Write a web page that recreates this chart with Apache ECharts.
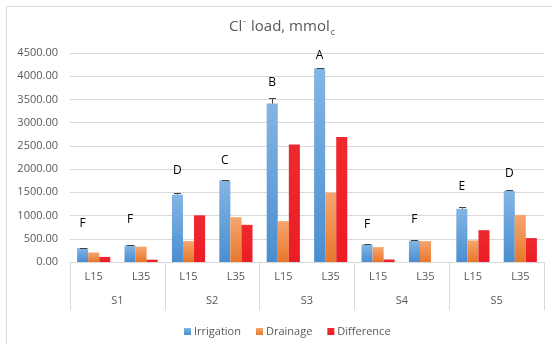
<!DOCTYPE html>
<html><head><meta charset="utf-8">
<script src="https://cdn.jsdelivr.net/npm/echarts@6/dist/echarts.min.js"></script>
<style>html,body{margin:0;padding:0;background:#fff}#c{width:552px;height:344px}</style>
</head><body><div id="c"></div>
<script>
const categories = ['L15','L35','L15','L35','L15','L35','L15','L35','L15','L35'];
const groups = ['S1','S2','S3','S4','S5'];
const irrigation = [300, 360, 1450, 1760, 3410, 4170, 380, 460, 1145, 1530];
const irrigationErr = [10, 10, 40, 10, 120, 10, 12, 10, 45, 10];
const drainage = [205, 330, 450, 965, 880, 1495, 320, 450, 465, 1015];
const difference = [110, 50, 1005, 800, 2530, 2690, 55, 0, 685, 515];
const letters = ['F','F','D','C','B','A','F','F','E','D'];
const letterY = [820, 920, 1970, 2190, 3860, 4450, 810, 910, 1625, 1900];
const yTicks = { min: 0, max: 4500, interval: 500 };

const FONT = 'Open Sans';
const GRAY = '#595959';
const LINE = '#d9d9d9';

const chart = echarts.init(document.getElementById('c'), null, {renderer: 'canvas'});

function grad(top, bottom) {
  return new echarts.graphic.LinearGradient(0, 0, 0, 1, [
    {offset: 0, color: top}, {offset: 1, color: bottom}
  ]);
}

const errData = irrigation.map((v, i) => [i, v, irrigationErr[i]]);
const letterData = letterY.map((v, i) => [i, v, letters[i]]);

function barOffset(api) {
  const catW = api.size([1, 0])[0];
  return catW * 0.7 / 3;
}

chart.setOption({
  animation: false,
  textStyle: {fontFamily: FONT},
  graphic: [
    {type: 'rect', shape: {x: 6.5, y: 6.5, width: 600, height: 400},
     style: {fill: 'none', stroke: LINE, lineWidth: 1}, silent: true, z: -1},
    {type: 'text', x: 282, y: 27,
     style: {
       text: '{a|Cl}{s|-}{a| load, mmol}{b|c}',
       align: 'center', verticalAlign: 'middle',
       rich: {
         a: {fontFamily: FONT, fontSize: 15, fill: GRAY, lineHeight: 20},
         s: {fontFamily: FONT, fontSize: 9, fill: GRAY, verticalAlign: 'top', padding: [0,1,8,1]},
         b: {fontFamily: FONT, fontSize: 9, fill: GRAY, padding: [10,0,0,1]}
       }
     }}
  ],
  grid: {left: 70, right: 8, top: 53, bottom: 82, containLabel: false},
  legend: {
    data: ['Irrigation', 'Drainage', 'Difference'],
    left: 179, top: 321,
    itemWidth: 7, itemHeight: 7, itemGap: 15,
    icon: 'rect',
    textStyle: {fontFamily: FONT, fontSize: 11, color: GRAY, padding: [0,0,0,-2]}
  },
  xAxis: [
    {type: 'category', data: categories, position: 'bottom',
     axisLine: {show: true, lineStyle: {color: LINE}},
     axisTick: {show: false},
     axisLabel: {color: GRAY, fontFamily: FONT, fontSize: 11, margin: 9}},
    {type: 'category', data: groups, position: 'bottom',
     axisLine: {show: true, lineStyle: {color: LINE}},
     axisTick: {show: true, length: 48, lineStyle: {color: LINE}},
     axisLabel: {color: GRAY, fontFamily: FONT, fontSize: 11, margin: 33}}
  ],
  yAxis: {
    type: 'value', min: yTicks.min, max: yTicks.max, interval: yTicks.interval,
    axisLine: {show: false}, axisTick: {show: false},
    splitLine: {lineStyle: {color: LINE}},
    axisLabel: {color: GRAY, fontFamily: FONT, fontSize: 11, margin: 12,
      formatter: v => v.toFixed(2)}
  },
  series: [
    {name: 'Irrigation', type: 'bar', data: irrigation, barCategoryGap: '30%', barGap: '0%',
     itemStyle: {color: grad('#84B5E4', '#4A8ED0')}},
    {name: 'Drainage', type: 'bar', data: drainage,
     itemStyle: {color: grad('#F6A66F', '#E8772B')}},
    {name: 'Difference', type: 'bar', data: difference,
     itemStyle: {color: grad('#EE2A2E', '#EC1C24')}},
    {type: 'custom', data: errData, encode: {x: 0, y: 1}, z: 5,
     renderItem: function (params, api) {
       const idx = api.value(0);
       const top = api.coord([idx, api.value(1)]);
       const hi = api.coord([idx, api.value(1) + api.value(2)]);
       const cx = Math.round(top[0] - barOffset(api)) + 0.5;
       const yh = Math.round(hi[1]) + 0.5;
       return {type: 'group', children: [
         {type: 'line', shape: {x1: cx, y1: top[1], x2: cx, y2: yh},
          style: {stroke: '#404040', lineWidth: 1}},
         {type: 'line', shape: {x1: cx - 3.5, y1: yh, x2: cx + 3.5, y2: yh},
          style: {stroke: '#404040', lineWidth: 1}}
       ]};
     }},
    {type: 'custom', data: letterData, encode: {x: 0, y: 1}, z: 6,
     renderItem: function (params, api) {
       const idx = api.value(0);
       const p = api.coord([idx, api.value(1)]);
       return {type: 'text', x: p[0] - barOffset(api), y: p[1],
         style: {text: letters[params.dataIndex], fill: '#000',
           fontFamily: FONT, fontSize: 12, align: 'center', verticalAlign: 'middle'}};
     }}
  ]
});
</script></body></html>
